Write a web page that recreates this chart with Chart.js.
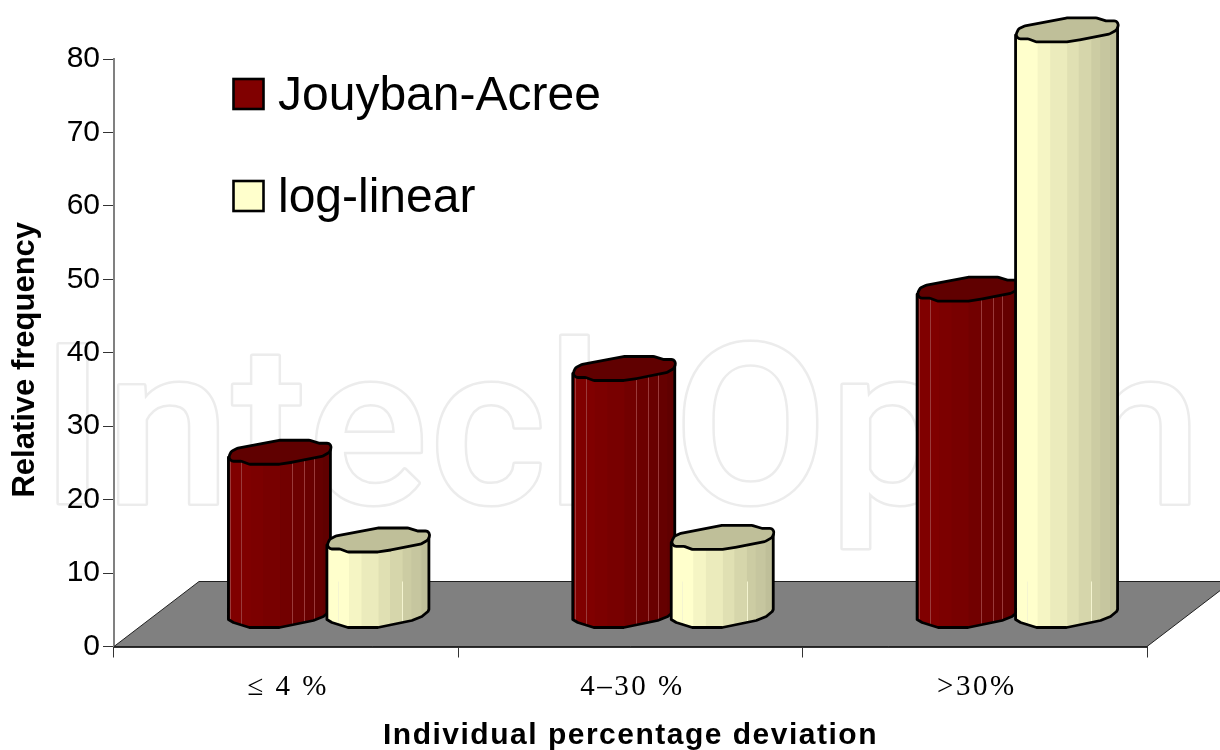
<!DOCTYPE html>
<html>
<head>
<meta charset="utf-8">
<script src="https://cdn.jsdelivr.net/npm/chart.js@4"></script>
<style>
  html, body { margin: 0; padding: 0; background: #fff; }
  #wrap { width: 1220px; height: 750px; }
</style>
</head>
<body>
<div id="wrap"><canvas id="chart" width="1220" height="750"></canvas></div>
<script>
const categories = ['≤ 4 %', '4–30 %', '>30%'];
const jouybanAcree = [22.3, 33.7, 44.5];
const logLinear = [10.35, 10.7, 79.8];
const yTicks = [0, 10, 20, 30, 40, 50, 60, 70, 80];

// fake 3D: the floor runs back from the axis, columns stand half way along it
const floorDepthX = 85;
const floorDepthY = 65;
const barShiftX = 42.5;
const barShiftY = 30.5;

// shape of the column top around its centre, column is about 102px wide
const capShape = [[-51, 5], [-48, -1], [-42, -4], [0, -12], [30, -12], [40, -9], [50, -9], [52, -5],
  [50, 0], [43, 4], [13, 10], [0, 12], [-30, 12], [-38, 9], [-48, 9]];
const baseShape = [[-51, 4], [-46, 7], [-30, 12], [0, 12], [34, 5], [44, 1], [50, -4], [51, -6]];

const stripStops = [0, .216, .339, .506, .619, .742, .829, .926, 1];
const redStrips = ['#800000', '#7c0000', '#780000', '#720000', '#6d0000', '#690000', '#650000', '#600000'];
const yellowStrips = ['#ffffcc', '#f5f5c4', '#ebebbc', '#e0e0b3', '#d6d6ab', '#cccca3', '#c6c69f', '#bfbf99'];
const redLines = [.02, .127, .623, .74, .836];
const yellowLines = [.11, .74];

function drawColumn(ctx, el, strips, capColor, lines, lineColor, lineFromY) {
  const cx = el.x + barShiftX;
  const topY = el.y - barShiftY;
  const baseY = el.base - barShiftY;
  const left = cx - 51;

  const body = new Path2D();
  body.moveTo(cx - 51, topY + 5);
  baseShape.forEach(p => body.lineTo(cx + p[0], baseY + p[1]));
  body.lineTo(cx + 51, topY - 5);
  body.closePath();

  ctx.save();
  ctx.lineJoin = 'round';
  ctx.save();
  ctx.clip(body);
  strips.forEach((c, i) => {
    ctx.fillStyle = c;
    ctx.fillRect(left + stripStops[i] * 102, topY - 20, (stripStops[i + 1] - stripStops[i]) * 102 + 1, baseY - topY + 50);
  });
  ctx.strokeStyle = lineColor;
  ctx.lineWidth = 1;
  lines.forEach(f => {
    const x = Math.round(left + f * 102) + .5;
    ctx.beginPath();
    ctx.moveTo(x, lineFromY === null ? topY : lineFromY);
    ctx.lineTo(x, baseY + 20);
    ctx.stroke();
  });
  ctx.restore();
  ctx.strokeStyle = '#000';
  ctx.lineWidth = 2.8;
  ctx.stroke(body);

  // rounded polygon for the top
  const n = capShape.length;
  ctx.beginPath();
  ctx.moveTo(cx + (capShape[n - 1][0] + capShape[0][0]) / 2, topY + (capShape[n - 1][1] + capShape[0][1]) / 2);
  capShape.forEach((p, i) => {
    const q = capShape[(i + 1) % n];
    ctx.arcTo(cx + p[0], topY + p[1], cx + (p[0] + q[0]) / 2, topY + (p[1] + q[1]) / 2, 4);
  });
  ctx.closePath();
  ctx.fillStyle = capColor;
  ctx.fill();
  ctx.stroke();
  ctx.restore();
}

// letter spacing and the small shifts are not options of the scale, so wrap its draw calls
function wrapDraw(scale, method, spacing, shiftX, shiftY) {
  const orig = scale[method];
  scale[method] = function (area) {
    const ctx = this.ctx;
    ctx.save();
    ctx.letterSpacing = spacing;
    ctx.translate(shiftX, shiftY);
    orig.call(this, area);
    ctx.restore();
    ctx.letterSpacing = '0px';
  };
}

let wrapped = false;

const scenePlugin = {
  id: 'scene',
  beforeDraw(chart) {
    const ctx = chart.ctx;
    if (!wrapped) {
      wrapped = true;
      wrapDraw(chart.scales.x, 'drawLabels', '2.5px', 2, 0);
      wrapDraw(chart.scales.x, 'drawTitle', '1.5px', 0, 0);
      wrapDraw(chart.scales.y, 'drawTitle', '0px', 0, 7);
    }

    // faint publisher mark behind everything, white fill hides the overlapping glyph contours
    ctx.save();
    ctx.font = '500 222px Roboto';
    ctx.letterSpacing = '2.4px';
    ctx.strokeStyle = '#ececec';
    ctx.lineWidth = 5;
    ctx.lineJoin = 'round';
    ctx.strokeText('IntechOpen', 41, 503);
    ctx.fillStyle = '#fff';
    ctx.fillText('IntechOpen', 41, 503);
    ctx.restore();
    ctx.letterSpacing = '0px';
  },
  beforeDatasetsDraw(chart) {
    const ctx = chart.ctx;
    const x = chart.scales.x;
    const y0 = chart.scales.y.getPixelForValue(0);

    // floor
    ctx.save();
    ctx.beginPath();
    ctx.moveTo(x.left, y0);
    ctx.lineTo(x.left + floorDepthX, y0 - floorDepthY);
    ctx.lineTo(x.right + floorDepthX, y0 - floorDepthY);
    ctx.lineTo(x.right, y0);
    ctx.closePath();
    ctx.fillStyle = '#808080';
    ctx.fill();
    ctx.strokeStyle = '#222';
    ctx.lineWidth = 1;
    ctx.stroke();
    ctx.restore();
  },
  afterDatasetsDraw(chart) {
    const ctx = chart.ctx;
    const floorBackY = chart.scales.y.getPixelForValue(0) - floorDepthY;
    chart.getDatasetMeta(0).data.forEach(el => drawColumn(ctx, el, redStrips, '#600000', redLines, '#9a3a3a', null));
    chart.getDatasetMeta(1).data.forEach(el => drawColumn(ctx, el, yellowStrips, '#bfbf99', yellowLines, '#f4f4d0', floorBackY));

    // legend sits inside the plot with a lot of air between entries
    ctx.save();
    ctx.textBaseline = 'alphabetic';
    ctx.textAlign = 'left';
    ctx.font = '48px "Liberation Sans"';
    [['#800000', 79, 110], ['#ffffcc', 181, 212]].forEach((row, i) => {
      ctx.fillStyle = row[0];
      ctx.strokeStyle = '#000';
      ctx.lineWidth = 2.6;
      ctx.fillRect(233.5, row[1], 30, 30);
      ctx.strokeRect(233.5, row[1], 30, 30);
      ctx.fillStyle = '#000';
      ctx.fillText(chart.data.datasets[i].label, 278, row[2]);
    });
    ctx.restore();
  }
};

new Chart(document.getElementById('chart'), {
  type: 'bar',
  data: {
    labels: categories,
    datasets: [
      { label: 'Jouyban-Acree', data: jouybanAcree, backgroundColor: 'transparent' },
      { label: 'log-linear', data: logLinear, backgroundColor: 'transparent' }
    ]
  },
  plugins: [scenePlugin],
  options: {
    responsive: false,
    animation: false,
    layout: { padding: { top: 59, right: 73, left: 0, bottom: 0 } },
    plugins: { legend: { display: false }, tooltip: { enabled: false } },
    datasets: { bar: { barPercentage: 1, categoryPercentage: 0.572 } },
    scales: {
      x: {
        afterFit: s => { s.height = 103.5; },
        border: { color: '#333', width: 2 },
        grid: { drawOnChartArea: false, tickColor: '#333', tickLength: 11 },
        ticks: { color: '#000', padding: 12, maxRotation: 0, font: { family: '"Liberation Serif"', size: 29 } },
        title: {
          display: true,
          text: 'Individual percentage deviation',
          color: '#000',
          padding: { top: 0, bottom: -4 },
          font: { family: '"Liberation Sans"', size: 30, weight: 'bold' }
        }
      },
      y: {
        min: 0,
        max: 80,
        afterFit: s => { s.width = 114; },
        afterBuildTicks: s => { s.ticks = yTicks.map(v => ({ value: v })); },
        border: { color: '#808080', width: 2 },
        grid: { drawOnChartArea: false, tickColor: '#333', tickLength: 11 },
        ticks: { color: '#000', padding: 3, font: { family: '"Liberation Sans"', size: 30 } },
        title: {
          display: true,
          text: 'Relative frequency',
          color: '#000',
          padding: { top: 6.7, bottom: 0 },
          font: { family: '"Liberation Sans"', size: 31, weight: 'bold' }
        }
      }
    }
  }
});
</script>
</body>
</html>
